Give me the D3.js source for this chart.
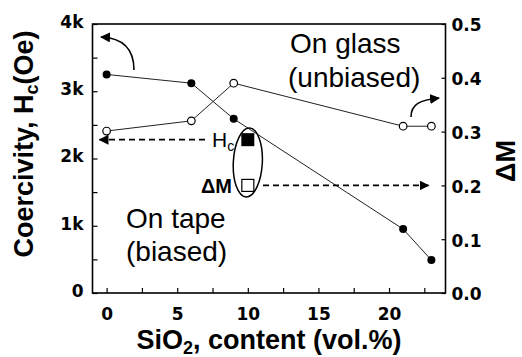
<!DOCTYPE html>
<html><head><meta charset="utf-8">
<script src="https://cdn.jsdelivr.net/npm/d3@7"></script>
<style>body{margin:0;background:#fff}</style>
</head><body>
<svg id="c" width="522" height="357"></svg>
<script>
const sio2 = [0, 6, 9, 21, 23];
const hcValues = [3250, 3120, 2590, 950, 490];
const dmValues = [0.301, 0.320, 0.390, 0.310, 0.310];
const xTicks = [0, 5, 10, 15, 20];
const xMinorTicks = [2.5, 7.5, 12.5, 17.5, 22.5];
const hcTicks = [0, 1000, 2000, 3000, 4000];
const hcTickLabels = ["0", "1k", "2k", "3k", "4k"];
const hcMinorTicks = [500, 1500, 2500, 3500];
const dmTicks = [0.0, 0.1, 0.2, 0.3, 0.4, 0.5];
const legendX = 10, legendHc = 2280, legendDm = 0.2;

const svg = d3.select("#c");
const L = 92.5, R = 445.5, T = 24, B = 293;
const x = d3.scaleLinear().domain([-1, 24]).range([L, R]);
const y = d3.scaleLinear().domain([0, 4000]).range([B, T]);
const y2 = d3.scaleLinear().domain([0, 0.5]).range([B, T]);

const tickFont = "'DejaVu Sans', sans-serif";

// axes (ticks inward)
const gx = svg.append("g").attr("transform", `translate(0,${B})`)
  .call(d3.axisTop(x).tickValues(xTicks.concat(xMinorTicks)).tickSize(5).tickFormat(""));
const gxl = svg.append("g").attr("transform", `translate(0,${B})`)
  .call(d3.axisBottom(x).tickValues(xTicks).tickSize(0).tickPadding(15).tickFormat(d3.format("d")));
gxl.selectAll("text").attr("font-size", 17).attr("font-weight", "bold").attr("font-family", tickFont).attr("fill", "#000");

const gy = svg.append("g").attr("transform", `translate(${L},0)`)
  .call(d3.axisRight(y).tickValues(hcTicks.concat(hcMinorTicks)).tickSize(5).tickFormat(""));
const gyl = svg.append("g").attr("transform", `translate(${L},0)`)
  .call(d3.axisLeft(y).tickValues(hcTicks).tickSize(0).tickPadding(9).tickFormat((d,i)=>hcTickLabels[i]));
gyl.selectAll("text").attr("font-size", 17).attr("font-weight", "bold").attr("font-family", tickFont).attr("fill", "#000").attr("dy", "0.2em");

const gy2 = svg.append("g").attr("transform", `translate(${R},0)`)
  .call(d3.axisLeft(y2).tickValues(dmTicks).tickSize(4).tickFormat(""));
const gy2l = svg.append("g").attr("transform", `translate(${R},0)`)
  .call(d3.axisRight(y2).tickValues(dmTicks).tickSize(0).tickPadding(6).tickFormat(d3.format(".1f")));
gy2l.selectAll("text").attr("font-size", 17).attr("font-weight", "bold").attr("font-family", tickFont).attr("fill", "#000").attr("dy", "0.4em");

[gx, gxl, gy, gyl, gy2, gy2l].forEach(g => { g.select(".domain").remove(); g.selectAll("line").attr("stroke", "#000").attr("stroke-width", 1.2); });

svg.append("rect").attr("x", L).attr("y", T).attr("width", R - L).attr("height", B - T)
  .attr("fill", "none").attr("stroke", "#000").attr("stroke-width", 1.6);

// lines
const lineHc = d3.line().x((d,i)=>x(sio2[i])).y(d=>y(d));
const lineDm = d3.line().x((d,i)=>x(sio2[i])).y(d=>y2(d));
svg.append("path").attr("d", lineHc(hcValues)).attr("fill", "none").attr("stroke", "#222").attr("stroke-width", 1);
svg.append("path").attr("d", lineDm(dmValues)).attr("fill", "none").attr("stroke", "#222").attr("stroke-width", 1);

svg.selectAll(".hc").data(hcValues).enter().append("circle")
  .attr("cx", (d,i)=>x(sio2[i])).attr("cy", d=>y(d)).attr("r", 4).attr("fill", "#000");
svg.selectAll(".dm").data(dmValues).enter().append("circle")
  .attr("cx", (d,i)=>x(sio2[i])).attr("cy", d=>y2(d)).attr("r", 3.8).attr("fill", "#fff").attr("stroke", "#000").attr("stroke-width", 1.2);

// arrow markers
const defs = svg.append("defs");
defs.append("marker").attr("id", "ah").attr("viewBox", "0 0 10 10").attr("refX", 9).attr("refY", 5)
  .attr("markerWidth", 10).attr("markerHeight", 10).attr("markerUnits", "userSpaceOnUse").attr("orient", "auto")
  .append("path").attr("d", "M0,0 L10,5 L0,10 Z").attr("fill", "#000");

// curved arrows
svg.append("path").attr("d", "M134,70 C134,50 124,38 101,37").attr("fill", "none").attr("stroke", "#000").attr("stroke-width", 1.6).attr("marker-end", "url(#ah)");
svg.append("path").attr("d", "M411,117 C411,104 420,100 439,98").attr("fill", "none").attr("stroke", "#000").attr("stroke-width", 1.6).attr("marker-end", "url(#ah)");

// dashed arrows
const lx = x(legendX);
svg.append("line").attr("x1", 205).attr("y1", y(legendHc)).attr("x2", L + 7).attr("y2", y(legendHc))
  .attr("stroke", "#000").attr("stroke-width", 1.6).attr("stroke-dasharray", "6,4").attr("marker-end", "url(#ah)");
svg.append("line").attr("x1", 263).attr("y1", y2(legendDm)).attr("x2", R - 17).attr("y2", y2(legendDm))
  .attr("stroke", "#000").attr("stroke-width", 1.6).attr("stroke-dasharray", "6,4").attr("marker-end", "url(#ah)");

// legend squares and ellipse
svg.append("rect").attr("x", lx - 6.5).attr("y", y(legendHc) - 6.5).attr("width", 13).attr("height", 13).attr("fill", "#000");
svg.append("rect").attr("x", lx - 6).attr("y", y2(legendDm) - 6).attr("width", 12).attr("height", 12).attr("fill", "#fff").attr("stroke", "#000").attr("stroke-width", 1.2);
svg.append("ellipse").attr("cx", lx).attr("cy", 162.5).attr("rx", 14.5).attr("ry", 34.5)
  .attr("fill", "none").attr("stroke", "#000").attr("stroke-width", 1.5).attr("transform", `rotate(3,${lx},162.5)`);

const sans = "'Liberation Sans', Arial, sans-serif";
const hcl = svg.append("text").attr("x", 212).attr("y", 147).attr("font-family", sans).attr("font-size", 21).attr("fill", "#000");
hcl.append("tspan").text("H");
hcl.append("tspan").attr("font-size", 14).attr("dy", 4).text("c");
svg.append("text").attr("x", 232).attr("y", 193).attr("text-anchor", "end").attr("font-family", sans).attr("font-size", 20).attr("font-weight", "bold").attr("fill", "#000").text("ΔM");

// annotations
const ann = [["On glass", 290, 53], ["(unbiased)", 288, 87], ["On tape", 126, 228], ["(biased)", 126, 261]];
ann.forEach(a => svg.append("text").attr("x", a[1]).attr("y", a[2]).attr("font-family", sans).attr("font-size", 28).attr("fill", "#000").text(a[0]));

// axis titles
const xt = svg.append("text").attr("x", (L + R) / 2).attr("y", 349).attr("text-anchor", "middle")
  .attr("font-family", sans).attr("font-size", 27).attr("font-weight", "bold").attr("fill", "#000");
xt.append("tspan").text("SiO");
xt.append("tspan").attr("font-size", 18).attr("dy", 5).text("2");
xt.append("tspan").attr("dy", -5).text(", content (vol.%)");

const yt = svg.append("text").attr("transform", "translate(33,144) rotate(-90)").attr("text-anchor", "middle")
  .attr("font-family", sans).attr("font-size", 27).attr("font-weight", "bold").attr("fill", "#000");
yt.append("tspan").text("Coercivity, H");
yt.append("tspan").attr("font-size", 18).attr("dy", 5).text("c");
yt.append("tspan").attr("dy", -5).text("(Oe)");

svg.append("text").attr("transform", "translate(515,161) rotate(-90)").attr("text-anchor", "middle")
  .attr("font-family", sans).attr("font-size", 27).attr("font-weight", "bold").attr("fill", "#000").text("ΔM");
</script>
</body></html>
